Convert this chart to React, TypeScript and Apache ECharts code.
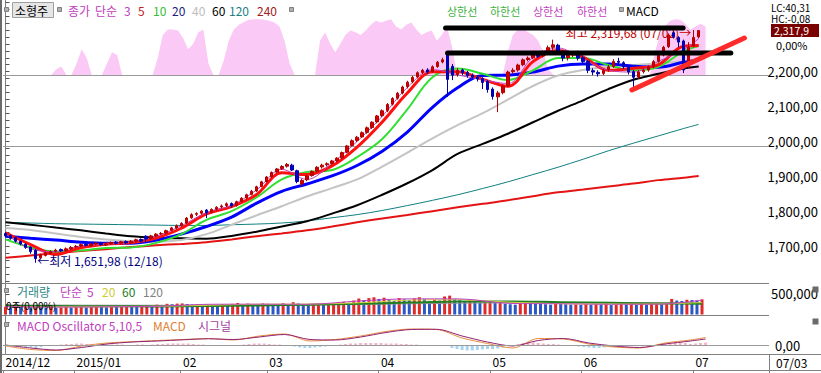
import React, { useEffect, useRef } from 'react';
import * as echarts from 'echarts';

// ---------- DATA ----------
const monthKeys = ['2014/12', '2015/01', '2015/02', '2015/03', '2015/04', '2015/05', '2015/06', '2015/07'];
const monthTradingDays = [
  [10, 11, 12, 15, 16, 17, 18, 19, 22, 23, 24, 26, 29, 30],
  [2, 5, 6, 7, 8, 9, 12, 13, 14, 15, 16, 19, 20, 21, 22, 23, 26, 27, 28, 29, 30],
  [2, 3, 4, 5, 6, 9, 10, 11, 12, 13, 16, 17, 23, 24, 25, 26, 27],
  [2, 3, 4, 5, 6, 9, 10, 11, 12, 13, 16, 17, 18, 19, 20, 23, 24, 25, 26, 27, 30, 31],
  [1, 2, 3, 6, 7, 8, 9, 10, 13, 14, 15, 16, 17, 20, 21, 22, 23, 24, 27, 28, 29, 30],
  [4, 6, 7, 8, 11, 12, 13, 14, 15, 18, 19, 20, 21, 22, 26, 27, 28, 29],
  [1, 2, 3, 4, 5, 8, 9, 10, 11, 12, 15, 16, 17, 18, 19, 22, 23, 24, 25, 26, 29, 30],
  [1, 2, 3],
];
const monthTickLabels = ['2014/12', '2015/01', '02', '03', '04', '05', '06', '07'];
const lastDateLabel = '07/03';
const blankSlots = 12;

// [open, close, low, high]
const candles: number[][] = [
  [1736, 1729, 1725, 1740], [1730, 1722, 1718, 1733], [1724, 1714, 1710, 1727], [1713, 1706, 1702, 1716],
  [1705, 1696, 1692, 1708], [1697, 1684, 1678, 1699], [1688, 1664, 1651.98, 1692], [1666, 1674, 1662, 1678],
  [1673, 1680, 1670, 1684], [1679, 1684, 1676, 1688], [1685, 1688, 1682, 1692], [1690, 1686, 1683, 1693],
  [1687, 1692, 1684, 1696], [1692, 1696, 1689, 1700],
  [1697, 1699, 1693, 1703], [1700, 1704, 1697, 1707], [1705, 1702, 1699, 1708], [1701, 1706, 1698, 1709],
  [1706, 1708, 1703, 1712], [1709, 1704, 1701, 1712], [1703, 1706, 1700, 1709], [1706, 1710, 1703, 1713],
  [1711, 1708, 1705, 1714], [1708, 1712, 1705, 1715], [1713, 1709, 1706, 1716], [1709, 1714, 1706, 1717],
  [1714, 1718, 1711, 1721], [1719, 1714, 1711, 1722], [1728, 1720, 1712, 1731], [1721, 1729, 1718, 1732],
  [1729, 1734, 1726, 1737], [1735, 1736, 1731, 1740], [1737, 1744, 1734, 1747], [1745, 1752, 1742, 1755],
  [1752, 1758, 1749, 1762],
  [1759, 1765, 1755, 1768], [1766, 1780, 1763, 1783], [1781, 1790, 1778, 1794], [1791, 1793, 1786, 1797],
  [1794, 1800, 1790, 1803], [1803, 1795, 1780, 1806], [1797, 1805, 1794, 1808], [1806, 1811, 1802, 1814],
  [1812, 1815, 1808, 1819], [1816, 1821, 1812, 1825], [1822, 1815, 1810, 1825], [1816, 1827, 1813, 1830],
  [1828, 1837, 1825, 1840], [1838, 1847, 1835, 1850], [1848, 1857, 1845, 1861], [1858, 1870, 1855, 1873],
  [1871, 1884, 1868, 1887],
  [1885, 1898, 1882, 1901], [1899, 1911, 1896, 1914], [1912, 1921, 1909, 1924], [1922, 1928, 1918, 1932],
  [1929, 1934, 1925, 1938], [1932, 1918, 1915, 1936], [1916, 1885, 1880, 1919], [1878, 1888, 1872, 1892],
  [1890, 1901, 1886, 1904], [1902, 1914, 1899, 1917], [1915, 1926, 1911, 1929], [1927, 1932, 1922, 1936],
  [1933, 1936, 1928, 1940], [1937, 1944, 1933, 1947], [1945, 1952, 1941, 1955], [1953, 1968, 1950, 1971],
  [1969, 1987, 1966, 1990], [1988, 2002, 1985, 2006], [2003, 2012, 1998, 2016], [2013, 2025, 2010, 2029],
  [2026, 2039, 2022, 2043], [2040, 2055, 2036, 2058],
  [2056, 2073, 2052, 2076], [2074, 2088, 2070, 2092], [2089, 2106, 2084, 2110], [2107, 2123, 2103, 2127],
  [2124, 2138, 2120, 2142], [2139, 2156, 2135, 2160], [2157, 2170, 2152, 2174], [2171, 2184, 2167, 2188],
  [2185, 2197, 2181, 2201], [2198, 2204, 2193, 2208], [2205, 2199, 2194, 2210], [2200, 2214, 2197, 2218],
  [2215, 2227, 2211, 2231], [2228, 2234, 2224, 2240], [2250, 2178, 2128, 2254], [2215, 2190, 2176, 2222],
  [2192, 2204, 2186, 2210], [2205, 2197, 2190, 2209], [2198, 2189, 2183, 2202], [2190, 2184, 2178, 2195],
  [2185, 2179, 2172, 2190], [2180, 2169, 2150, 2184],
  [2172, 2149, 2140, 2176], [2150, 2129, 2120, 2155], [2128, 2139, 2084, 2145], [2140, 2159, 2135, 2163],
  [2160, 2199, 2156, 2203], [2200, 2204, 2194, 2210], [2205, 2219, 2200, 2223], [2220, 2234, 2216, 2238],
  [2235, 2239, 2230, 2244], [2240, 2251, 2236, 2256], [2252, 2244, 2239, 2258], [2245, 2257, 2241, 2262],
  [2258, 2269, 2253, 2275], [2270, 2277, 2262, 2292], [2276, 2259, 2252, 2280], [2258, 2239, 2230, 2262],
  [2240, 2247, 2232, 2252], [2248, 2254, 2242, 2258],
  [2255, 2239, 2232, 2260], [2240, 2229, 2222, 2246], [2230, 2204, 2196, 2233], [2203, 2199, 2190, 2210],
  [2198, 2194, 2186, 2204], [2195, 2204, 2190, 2208], [2205, 2214, 2200, 2220], [2215, 2229, 2211, 2236],
  [2230, 2227, 2220, 2240], [2226, 2214, 2208, 2230], [2213, 2199, 2192, 2218], [2200, 2184, 2150, 2205],
  [2185, 2199, 2180, 2204], [2200, 2204, 2195, 2210], [2205, 2214, 2200, 2218], [2215, 2229, 2210, 2233],
  [2230, 2247, 2226, 2252], [2248, 2270, 2244, 2274], [2272, 2305, 2268, 2310], [2312, 2300, 2295, 2316],
  [2298, 2285, 2270, 2302], [2288, 2205, 2196, 2292],
  [2215, 2270, 2210, 2285], [2275, 2298, 2270, 2319.68], [2300, 2317.9, 2296, 2318],
];

// moving averages, read at every 5th trading day
const maSampleIdx = [0, 5, 10, 15, 20, 25, 30, 35, 40, 45, 50, 55, 60, 65, 70, 75, 80, 85, 90, 95, 100, 105, 110, 115, 120, 125, 130, 135, 138];
const ma3 = [1735, 1692, 1684, 1700, 1705, 1711, 1728, 1758, 1796, 1817, 1861, 1920, 1891, 1938, 2000, 2072, 2155, 2206, 2191, 2177, 2166, 2241, 2268, 2236, 2204, 2199, 2230, 2263, 2295];
const ma5 = [1738, 1704, 1676, 1695, 1705, 1710, 1723, 1751, 1792, 1813, 1848, 1910, 1905, 1930, 1984, 2056, 2139, 2200, 2200, 2178, 2158, 2229, 2261, 2242, 2204, 2210, 2220, 2273, 2275];
const ma10 = [1719, 1696, 1684, 1687, 1694, 1696, 1709, 1734, 1775, 1800, 1840, 1891, 1912, 1918, 1955, 2007, 2092, 2184, 2209, 2194, 2176, 2204, 2239, 2239, 2219, 2204, 2214, 2259, 2274];
const ma20 = [1728, 1722, 1717, 1711, 1708, 1708, 1717, 1734, 1756, 1783, 1823, 1857, 1878, 1901, 1931, 1972, 2027, 2098, 2154, 2189, 2190, 2199, 2216, 2222, 2222, 2216, 2213, 2227, 2233];
const ma40 = [1752, 1746, 1736, 1726, 1719, 1714, 1712, 1717, 1734, 1761, 1788, 1814, 1842, 1866, 1891, 1928, 1968, 2009, 2047, 2081, 2120, 2159, 2189, 2205, 2214, 2219, 2224, 2229, 2232];
const ma60 = [1768, 1761, 1753, 1745, 1736, 1728, 1724, 1722, 1721, 1729, 1741, 1756, 1771, 1793, 1817, 1847, 1880, 1918, 1964, 1993, 2022, 2055, 2088, 2118, 2150, 2177, 2194, 2209, 2215];
const ma120 = [1768, 1766, 1764, 1763, 1762, 1761, 1760, 1759, 1759, 1761, 1763, 1766, 1772, 1781, 1790, 1802, 1816, 1831, 1847, 1865, 1884, 1905, 1926, 1949, 1973, 1995, 2016, 2037, 2049];
const ma240 = [1666, 1673, 1680, 1686, 1691, 1697, 1702, 1706, 1711, 1719, 1728, 1736, 1745, 1756, 1768, 1779, 1789, 1800, 1811, 1821, 1831, 1843, 1854, 1862, 1871, 1879, 1889, 1896, 1901];

// pink overlay indicator (0..100)
const bandIndicator = [
  0, 0, 0, 0, 0, 0, 0, 0, 0, 0,
  10, 15, 0, 0, 20, 45, 30, 0, 0, 0,
  20, 40, 35, 0, 0, 0, 0, 0, 0, 0,
  30, 70, 80, 80, 78, 65, 45, 55, 75, 80,
  20, 0, 0, 25, 60, 80, 88, 93, 97, 98,
  98, 97, 95, 92, 85, 60, 20, 0, 0, 0,
  0, 0, 60, 75, 55, 40, 55, 70, 78, 75,
  70, 78, 88, 95, 92, 95, 98, 85, 80, 88,
  92, 80, 70, 75, 78, 60, 70, 85, 50, 0,
  0, 0, 0, 0, 0, 0, 0, 0, 0, 40,
  70, 80, 82, 75, 70, 60, 40, 10, 0, 0,
  0, 0, 0, 0, 0, 0, 0, 0, 0, 0,
  0, 0, 0, 0, 0, 0, 0, 0, 40, 70,
  85, 95, 98, 97, 90, 80, 85, 90, 85,
];

// volume (thousands)
const volumeK = [
  190, 175, 200, 185, 210, 195, 230, 180, 170, 190, 160, 175, 185, 170,
  180, 195, 170, 185, 200, 190, 175, 205, 185, 195, 210, 200, 190, 215, 225, 205, 240, 230, 260, 250, 265,
  270, 255, 240, 250, 230, 245, 225, 215, 250, 240, 260, 280, 255, 265, 250, 240, 270,
  260, 245, 235, 275, 250, 300, 270, 245, 235, 250, 260, 240, 255, 280, 300, 310, 285, 340, 390, 350, 400, 420,
  380, 410, 360, 330, 400, 370, 350, 390, 420, 380, 330, 360, 340, 440, 460, 380, 360, 320, 340, 310, 290, 300,
  330, 280, 310, 260, 250, 240, 280, 300, 290, 270, 260, 250, 240, 270, 260, 250, 240, 245,
  235, 255, 240, 260, 250, 270, 230, 245, 260, 250, 265, 240, 255, 235, 260, 275, 250, 265, 380, 340, 330, 360,
  350, 340, 370,
];
const volSampleIdx = [0, 10, 20, 30, 40, 50, 60, 70, 80, 90, 100, 110, 120, 130, 138];
const volMa5K = [192, 180, 188, 200, 248, 252, 250, 330, 382, 380, 270, 262, 250, 255, 350];
const volMa20K = [195, 188, 190, 198, 225, 250, 255, 285, 350, 360, 300, 262, 255, 260, 290];
const volMa60K = [210, 205, 200, 198, 205, 222, 240, 260, 290, 320, 320, 300, 285, 270, 265];
const volMa120K = [230, 228, 226, 225, 224, 228, 234, 245, 260, 275, 285, 290, 290, 285, 282];

// MACD (5,10,5)
const macdLine = [-1, -4.5, -5.5, -1, 2, 3.3, 4.5, 5.5, 6.5, 5, 9, 11, 4, 5.5, 9, 13.5, 16, 15.5, 7, 1.5, -3, 6.5, 6, 1, -2, -3, 2, 5, 7.5];
const signalLine = [0, -3, -5, -2.5, 1, 3, 4, 5.2, 6.2, 5.5, 8, 10.5, 5.5, 5, 8, 12.5, 15.5, 15.7, 9, 3, -1, 4.5, 6.5, 2, -1, -2.5, 1, 4, 6];
const oscillator = [
  -0.5, -1, -1.5, -2, -2, -2.5, -3, -2, -1, -0.5, 0, 0.5, 1, 1,
  1.5, 1.5, 1, 1, 0.5, 0.5, 0.5, 0.5, 0.5, 0.5, 0, 0, 0.5, 0.5, 0, 0.5, 1, 1, 1.5, 1.5, 1.5,
  1.5, 1.5, 1, 0.5, 0.5, 0, 0, -0.5, -0.5, -1, -0.5, 0, 0.5, 1, 1.5, 1.5, 1.5,
  1, 0.5, 0.5, 0, -0.5, -1.5, -2.5, -3, -3, -2.5, -2, -1.5, -1, 0, 0.5, 1, 1.5, 1.5, 2, 2, 2, 2,
  2, 1.5, 1.5, 1.5, 1, 1, 0.5, 0.5, 0, 0, -0.5, -0.5, -1, -1, -3, -4, -5, -5.5, -5.5, -5, -4.5, -4,
  -4, -3.5, -2.5, -1, 0, 1, 2, 2.5, 2.5, 2, 1.5, 1, 1, 0.5, 0, -0.5, -1, -1.5,
  -2, -2.5, -3, -3, -2.5, -2, -1.5, -1, -0.5, 0, 0, -0.5, -1, -0.5, 0, 0.5, 1, 1.5, 2.5, 3, 2, 1,
  1.5, 2, 2.5,
];

// user drawings: [dayIndex, price]
const drawTopResistance = [[87.6, 2325.4], [134.9, 2325.4]];
const drawLowResistance = [[88.0, 2253.6], [144.4, 2253.6]];
const drawTrendSupport = [[124.7, 2147.5], [147.1, 2296.7]];

const highIdx = 137;
const highValue = 2319.68;
const lowIdx = 6;
const lowValue = 1651.98;
const priceLabels = [1700, 1800, 1900, 2000, 2100, 2200];

// ---------- BUILD ----------
const dates: string[] = [];
const monthStartIdx: number[] = [];
monthKeys.forEach((m, k) => {
  monthStartIdx.push(dates.length);
  monthTradingDays[k].forEach((d) => dates.push(`${m}/${String(d).padStart(2, '0')}`));
});
const categories = dates.concat(Array.from({ length: blankSlots }, (_, k) => `+${k + 1}`));
const N = categories.length;
const monthStartSet = new Set(monthStartIdx);
const monthLabelAt: Record<number, string> = {};
monthStartIdx.forEach((idx, k) => (monthLabelAt[idx] = monthTickLabels[k]));

const FONT = '"Noto Sans CJK KR", "Noto Sans", sans-serif';
const Y_MIN = 1593.9;
const Y_MAX = 2405.7;
const VOL_MAX = 768000;

const priceTicks: number[] = [];
for (let v = 1600; v <= 2400; v += 20) priceTicks.push(v);

const fmtPrice = (v: number) => `${Math.floor(v / 1000)},${String(Math.round(v) % 1000).padStart(3, '0')},00`;

function buildOption(): any {
  const hiddenCat = (gridIndex: number) => ({ type: 'category', gridIndex, data: categories, boundaryGap: true, show: false });
  const hiddenVal = (gridIndex: number) => ({ type: 'value', gridIndex, min: -0.5, max: N - 0.5, show: false });

  const maLine = (name: string, arr: number[], color: string, width: number) => ({
    name, type: 'line', xAxisIndex: 1, yAxisIndex: 0,
    data: maSampleIdx.map((s, k) => [s, arr[k]]),
    symbol: 'none', smooth: 0.35, silent: true,
    lineStyle: { color, width },
  });
  const volLine = (arr: number[], color: string, width: number) => ({
    type: 'line', xAxisIndex: 4, yAxisIndex: 2,
    data: volSampleIdx.map((s, k) => [s, arr[k] * 1000]),
    symbol: 'none', smooth: 0.3, silent: true, lineStyle: { color, width },
  });
  const drawLine = (pts: number[][], color: string) => ({
    type: 'line', xAxisIndex: 1, yAxisIndex: 0, data: pts, symbol: 'none', silent: true, z: 10,
    lineStyle: { color, width: 5, cap: 'round' },
  });

  const T = (text: string, x: number, y: number, fill: string, size = 12, extra: any = {}) => ({
    type: 'text', x, y, z: 100, silent: true,
    style: { text, fill, font: `${size}px ${FONT}`, verticalAlign: 'middle', textVerticalAlign: 'middle', ...extra },
  });
  const R = (x: number, y: number, w: number, h: number, fill: string, stroke?: string) => ({
    type: 'rect', z: 99, silent: true, shape: { x, y, width: w, height: h }, style: { fill, stroke, lineWidth: 1 },
  });
  const L = (x1: number, y1: number, x2: number, y2: number, color = '#8c8c8c', w = 1) => ({
    type: 'line', z: 1, silent: true, shape: { x1, y1, x2, y2 }, style: { stroke: color, lineWidth: w },
  });

  const graphic = [
    R(0, 0, 2, 373, '#6a6a6a'),
    L(3, 75.5, 769, 75.5, '#9a9a9a'),
    L(3, 146.5, 769, 146.5, '#9a9a9a'),
    L(2, 283.5, 769, 283.5, '#808080'),
    L(2, 315.5, 769, 315.5, '#808080'),
    L(2, 354.5, 821, 354.5, '#808080'),
    L(2, 370.5, 821, 370.5, '#808080'),
    L(769.5, 354, 769.5, 371, '#808080'),
    // top legend
    R(4.5, 7.5, 4, 4, '#b0b0b0', '#808080'),
    R(12.5, 2.5, 41, 15, '#e6e6e6', '#a0a0a0'),
    T('소형주', 15, 10.5, '#000', 12),
    R(57.5, 7.5, 4, 4, '#b0b0b0', '#808080'),
    T('종가', 68, 10.5, '#c040c0', 12),
    T('단순', 95, 10.5, '#c040c0', 12),
    T('3', 124, 10.5, '#c040c0', 12),
    T('5', 138, 10.5, '#c02020', 12),
    T('10', 153, 10.5, '#30c030', 12),
    T('20', 172, 10.5, '#202080', 12),
    T('40', 192, 10.5, '#bdbdbd', 12),
    T('60', 212, 10.5, '#000', 12),
    T('120', 229, 10.5, '#208080', 12),
    T('240', 257, 10.5, '#a02020', 12),
    R(289.5, 7.5, 4, 4, '#b0b0b0', '#808080'),
    T('상한선', 447, 10.5, '#40b040', 11),
    T('하한선', 490, 10.5, '#40b040', 11),
    T('상한선', 533, 10.5, '#c040c0', 11),
    T('하한선', 577, 10.5, '#c040c0', 11),
    R(619.5, 7.5, 4, 4, '#b0b0b0', '#808080'),
    T('MACD', 626, 10.5, '#000', 12),
    // right top
    T('LC:40,31', 771, 7, '#000', 10),
    T('HC:-0,08', 771, 18, '#000', 10),
    R(771, 24, 48, 13, '#7a0000'),
    T('2,317,9', 774, 30.5, '#fff', 10.5),
    T('0,00%', 776, 45, '#000', 11),
    // volume legend
    R(4.5, 288.5, 4, 4, '#b0b0b0', '#808080'),
    T('거래량', 17, 291, '#308888', 12),
    T('단순', 60, 291, '#c040c0', 12),
    T('5', 87, 291, '#c040c0', 12),
    T('20', 102, 291, '#cccc30', 12),
    T('60', 122, 291, '#208020', 12),
    T('120', 143, 291, '#808080', 12),
    T('0주(0,00%)', 6, 305, '#000', 10),
    R(812.5, 286.5, 6, 6, '#6a6a6a'),
    // MACD legend
    R(4.5, 322.5, 4, 4, '#b0b0b0', '#808080'),
    T('MACD Oscillator 5,10,5', 17, 325, '#c040c0', 12),
    T('MACD', 153, 325, '#e08030', 12),
    T('시그널', 198, 325, '#a040a0', 12),
    R(812.5, 318.5, 6, 6, '#6a6a6a'),
    // last date
    T(lastDateLabel, 776, 362.5, '#000', 12),
  ];

  return {
    animation: false,
    backgroundColor: '#ffffff',
    textStyle: { fontFamily: FONT },
    grid: [
      { left: 3, top: 0, width: 766, height: 283 },
      { left: 3, top: 18, width: 766, height: 57 },
      { left: 3, top: 283, width: 766, height: 31.5 },
      { left: 3, top: 315, width: 766, height: 39 },
      { left: 3, top: 354, width: 766, height: 17 },
    ],
    xAxis: [
      hiddenCat(0), // 0
      hiddenVal(0), // 1
      hiddenCat(1), // 2
      hiddenCat(2), // 3
      hiddenVal(2), // 4
      hiddenCat(3), // 5
      hiddenVal(3), // 6
      {
        type: 'category', gridIndex: 4, data: categories, position: 'top', boundaryGap: true,
        axisLine: { show: false },
        axisTick: { show: true, inside: true, length: 17, interval: (i: number) => monthStartSet.has(i), lineStyle: { color: '#808080' } },
        axisLabel: {
          show: true, inside: true, interval: (i: number) => monthStartSet.has(i),
          formatter: (_v: string, i: number) => monthLabelAt[i] || '',
          align: 'left', margin: 1, fontSize: 12, color: '#000', fontFamily: FONT, verticalAlign: 'top',
        },
      },
    ],
    yAxis: [
      {
        type: 'value', gridIndex: 0, position: 'right', min: Y_MIN, max: Y_MAX,
        splitLine: { show: false },
        axisLine: { show: true, lineStyle: { color: '#808080' } },
        axisTick: { show: true, customValues: priceTicks, length: 4, lineStyle: { color: '#555' } },
        axisLabel: { customValues: priceLabels, formatter: fmtPrice, margin: 6, fontSize: 13, color: '#000', fontFamily: FONT },
      },
      { type: 'value', gridIndex: 1, min: 0, max: 100, show: false },
      {
        type: 'value', gridIndex: 2, position: 'right', min: 0, max: VOL_MAX,
        splitLine: { show: false },
        axisLine: { show: true, lineStyle: { color: '#808080' } },
        axisTick: { show: true, customValues: [250000, 500000, 750000], length: 4, lineStyle: { color: '#555' } },
        axisLabel: { customValues: [500000], formatter: () => '500,000', margin: 6, fontSize: 13, color: '#000', fontFamily: FONT },
      },
      {
        type: 'value', gridIndex: 3, position: 'right', min: -9, max: 30,
        splitLine: { show: false },
        axisLine: { show: true, lineStyle: { color: '#808080' } },
        axisTick: { show: true, customValues: [0, 23], length: 4, lineStyle: { color: '#555' } },
        axisLabel: { customValues: [0], formatter: () => '0,00', margin: 6, fontSize: 13, color: '#000', fontFamily: FONT },
      },
      { type: 'value', gridIndex: 4, show: false },
    ],
    series: [
      {
        type: 'line', xAxisIndex: 2, yAxisIndex: 1, data: bandIndicator, symbol: 'none', silent: true, z: 1,
        lineStyle: { width: 0, color: '#f9c6f3' }, areaStyle: { color: '#fbc9f5', opacity: 1 },
      },
      maLine('240', ma240, '#e41414', 2),
      maLine('120', ma120, '#108080', 1),
      maLine('60', ma60, '#000000', 2),
      maLine('40', ma40, '#c4c4c4', 2),
      maLine('20', ma20, '#0000ff', 3),
      maLine('10', ma10, '#30e030', 2),
      maLine('5', ma5, '#ff1010', 3),
      maLine('3', ma3, '#c040c0', 1),
      {
        type: 'candlestick', xAxisIndex: 0, yAxisIndex: 0, data: candles, barWidth: 3, z: 5,
        itemStyle: { color: '#d40000', color0: '#0000cc', borderColor: '#b00000', borderColor0: '#0000a8', borderWidth: 1 },
        markPoint: {
          symbol: 'circle', symbolSize: 1, silent: true,
          itemStyle: { color: 'rgba(0,0,0,0)' },
          data: [
            {
              coord: [categories[highIdx], highValue],
              label: { show: true, position: 'left', distance: 2, offset: [0, 3], formatter: '최고 2,319,68 (07/02)→', color: '#c00000', fontSize: 12, fontFamily: FONT },
            },
            {
              coord: [categories[lowIdx], lowValue],
              label: { show: true, position: 'right', distance: 1, offset: [0, -2], formatter: '←최저 1,651,98 (12/18)', color: '#000080', fontSize: 12, fontFamily: FONT },
            },
          ],
        },
      },
      drawLine(drawTopResistance, '#000000'),
      drawLine(drawLowResistance, '#000000'),
      drawLine(drawTrendSupport, '#ff2a2a'),
      {
        type: 'bar', xAxisIndex: 3, yAxisIndex: 2, barWidth: 3, silent: true,
        data: volumeK.map((v, i) => ({ value: v * 1000, itemStyle: { color: i > 0 && v < volumeK[i - 1] ? '#2a56c6' : '#e02a2a' } })),
      },
      volLine(volMa120K, '#909090', 1),
      volLine(volMa60K, '#208020', 2),
      volLine(volMa20K, '#d4d440', 1),
      volLine(volMa5K, '#c040c0', 1),
      {
        type: 'bar', xAxisIndex: 5, yAxisIndex: 3, barWidth: 3, silent: true,
        data: oscillator.map((v) => ({ value: v, itemStyle: { color: v >= 0 ? '#f6b4c8' : '#a8d4f0' } })),
        markLine: {
          silent: true, symbol: ['none', 'none'], label: { show: false },
          lineStyle: { color: '#9a9a9a', type: 'solid', width: 1 },
          data: [{ yAxis: 0 }],
        },
      },
      {
        type: 'line', xAxisIndex: 6, yAxisIndex: 3, data: maSampleIdx.map((s, k) => [s, macdLine[k]]),
        symbol: 'none', smooth: 0.3, silent: true, lineStyle: { color: '#e89040', width: 1 },
      },
      {
        type: 'line', xAxisIndex: 6, yAxisIndex: 3, data: maSampleIdx.map((s, k) => [s, signalLine[k]]),
        symbol: 'none', smooth: 0.3, silent: true, lineStyle: { color: '#902070', width: 1 },
      },
    ],
    graphic,
  };
}

export default function App() {
  const ref = useRef<HTMLDivElement>(null);
  useEffect(() => {
    if (!ref.current) return;
    const chart = echarts.init(ref.current, undefined, { renderer: 'svg' });
    chart.setOption(buildOption());
    return () => chart.dispose();
  }, []);
  return (
    <div
      ref={ref}
      style={{ position: 'fixed', left: 0, top: 0, width: 821, height: 373, background: '#fff' }}
    />
  );
}
